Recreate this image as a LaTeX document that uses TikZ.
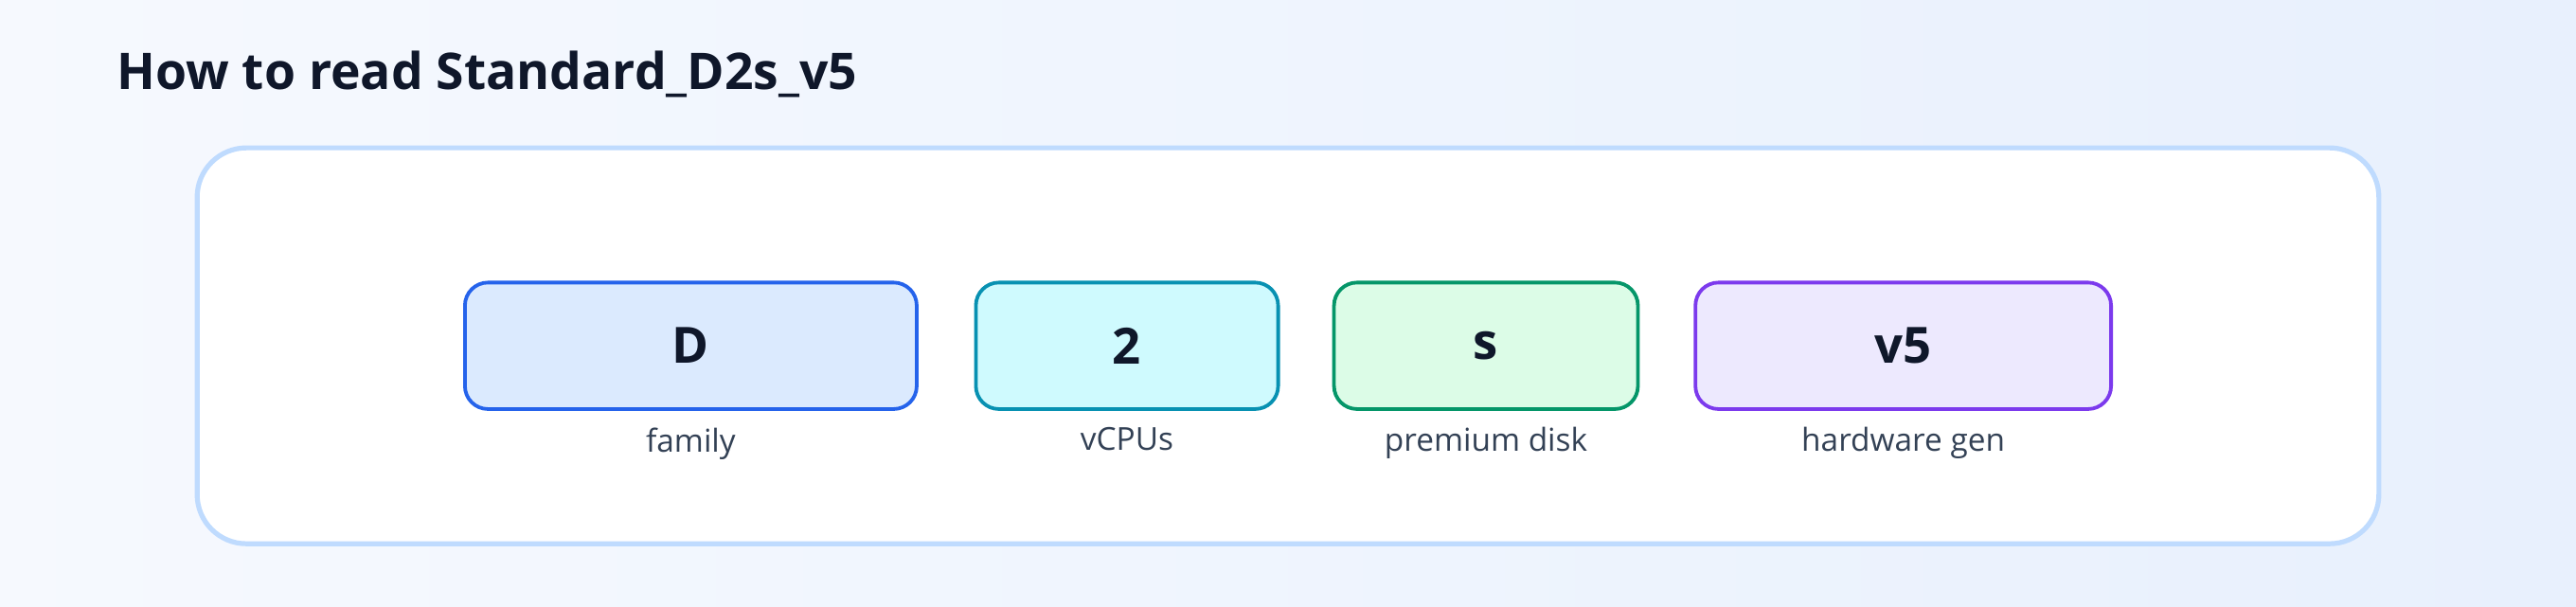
\documentclass[tikz,border=0pt]{standalone}
\usepackage{fontspec}
\setmainfont{Open Sans}
\usetikzlibrary{positioning}
\newlength\px
\setlength\px{0.17347mm}
\definecolor{ink}{HTML}{0F172A}
\definecolor{note}{HTML}{334155}
\definecolor{frame}{HTML}{BFDBFE}
\definecolor{bgend}{HTML}{E8F0FD}
\tikzset{
    part/.style={draw=#1, line width=2.2*\px, rounded corners=14*\px, minimum height=77*\px,
        font=\bfseries\fontsize{15}{18}\selectfont, text=ink},
    note/.style={font=\fontsize{9.5}{11}\selectfont, text=note}
}
\definecolor{dline}{HTML}{2563EB}\definecolor{dfill}{HTML}{DBEAFE}
\definecolor{cline}{HTML}{0891B2}\definecolor{cfill}{HTML}{CFFAFE}
\definecolor{sline}{HTML}{059669}\definecolor{sfill}{HTML}{DCFCE7}
\definecolor{vline}{HTML}{7C3AED}\definecolor{vfill}{HTML}{EDE9FE}
\begin{document}
\begin{tikzpicture}[x=\px, y=-\px]
    \shade[left color=white!60!bgend, right color=bgend] (0,0) rectangle (1568,369);
    \useasboundingbox (0,0) rectangle (1568,369);
    \node[anchor=west, font=\bfseries\fontsize{15.2}{18}\selectfont, text=ink] (title) at (64,45) {How to read Standard\_D2s\_v5};
    \draw[frame, fill=white, line width=3*\px, rounded corners=30*\px] (120,90) rectangle (1448,331);
    \node[part=dline, fill=dfill, minimum width=275*\px] (fam) at (420.5,210.5) {D};
    \node[part=cline, fill=cfill, minimum width=184*\px] (cpu) at (686,210.5) {2};
    \node[part=sline, fill=sfill, minimum width=185*\px] (disk) at (904.5,210.5) {s};
    \node[part=vline, fill=vfill, minimum width=253*\px] (gen) at (1158.5,210.5) {v5};
    \node[note, below=3*\px of fam] (famtxt) {family};
    \node[note, below=3*\px of cpu] (cputxt) {vCPUs};
    \node[note, below=3*\px of disk] (disktxt) {premium disk};
    \node[note, below=3*\px of gen] (gentxt) {hardware gen};
\end{tikzpicture}
\end{document}
